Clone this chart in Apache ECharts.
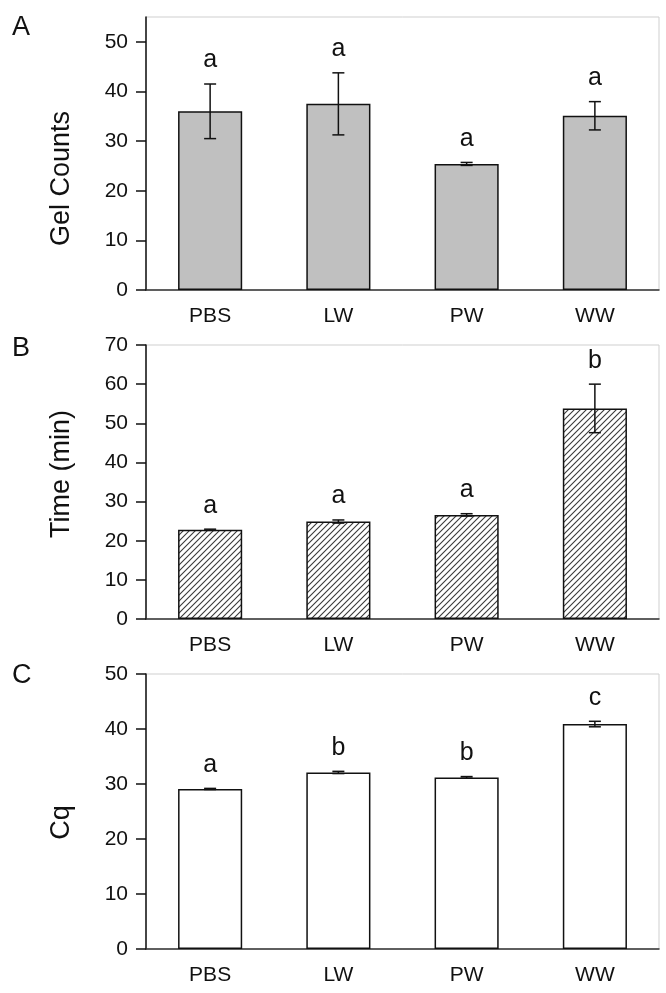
<!DOCTYPE html>
<html>
<head>
<meta charset="utf-8">
<script src="https://cdn.jsdelivr.net/npm/echarts@6/dist/echarts.min.js"></script>
<style>
html,body{margin:0;padding:0;background:#fff;}
#chart{width:666px;height:993px;}
</style>
</head>
<body>
<div id="chart"></div>
<script>
const categories = ['PBS', 'LW', 'PW', 'WW'];

const gelMean = [36.0, 37.5, 25.4, 35.1];
const gelErr = [5.5, 6.25, 0.3, 2.85];
const gelLetters = ['a', 'a', 'a', 'a'];
const gelTicks = [0, 10, 20, 30, 40, 50];

const timeMean = [22.8, 24.9, 26.6, 53.8];
const timeErr = [0.15, 0.4, 0.3, 6.2];
const timeLetters = ['a', 'a', 'a', 'b'];
const timeTicks = [0, 10, 20, 30, 40, 50, 60, 70];

const cqMean = [29.1, 32.1, 31.2, 40.9];
const cqErr = [0.1, 0.2, 0.15, 0.5];
const cqLetters = ['a', 'b', 'b', 'c'];
const cqTicks = [0, 10, 20, 30, 40, 50];

const FONT = '"Liberation Sans", Arial, Helvetica, sans-serif';

// hatch pattern for panel B
const hatch = document.createElement('canvas');
hatch.width = 6; hatch.height = 6;
(function () {
  const c = hatch.getContext('2d');
  c.fillStyle = '#ffffff';
  c.fillRect(0, 0, 6, 6);
  c.strokeStyle = '#3a3a3a';
  c.lineWidth = 1.1;
  c.beginPath();
  c.moveTo(-1, 7); c.lineTo(7, -1);
  c.moveTo(-4, 4); c.lineTo(4, -4);
  c.moveTo(2, 10); c.lineTo(10, 2);
  c.stroke();
})();

const panels = [
  { tag: 'A', name: 'Gel Counts', mean: gelMean, err: gelErr, letters: gelLetters, ticks: gelTicks, max: 55, fill: '#c0c0c0', top: 17, height: 273, tagY: 28, namePad: [0, 50, 0, 0] },
  { tag: 'B', name: 'Time (min)', mean: timeMean, err: timeErr, letters: timeLetters, ticks: timeTicks, max: 70, fill: { image: hatch, repeat: 'repeat' }, top: 345, height: 274, tagY: 349, namePad: [0, 0, 0, 16] },
  { tag: 'C', name: 'Cq', mean: cqMean, err: cqErr, letters: cqLetters, ticks: cqTicks, max: 50, fill: '#ffffff', top: 674, height: 275, tagY: 676, namePad: [0, 22, 0, 0] }
];

const grid = [], xAxis = [], yAxis = [], series = [], graphic = [];

panels.forEach((p, k) => {
  grid.push({ left: 146, right: 7, top: p.top, height: p.height, show: true, borderColor: '#cfcfcf', borderWidth: 1, backgroundColor: 'transparent' });
  xAxis.push({
    type: 'category', gridIndex: k, data: categories,
    axisLine: { lineStyle: { color: '#333', width: 1.5 } },
    axisTick: { alignWithLabel: true, length: 11, lineStyle: { color: '#222', width: 1.5 } },
    axisLabel: { color: '#111', fontSize: 21, fontFamily: FONT, margin: 16 }
  });
  yAxis.push({
    type: 'value', gridIndex: k, min: 0, max: p.max, interval: 10,
    name: p.name, nameLocation: 'middle', nameRotate: 90, nameGap: 71,
    nameTextStyle: { color: '#111', fontSize: 27, fontFamily: FONT, padding: p.namePad },
    axisLine: { show: true, lineStyle: { color: '#111', width: 1.5 } },
    axisTick: { show: true, length: 10, customValues: p.ticks, lineStyle: { color: '#111', width: 1.5 } },
    axisLabel: { color: '#111', fontSize: 21, fontFamily: FONT, margin: 18, customValues: p.ticks },
    splitLine: { show: false }
  });
  series.push({
    type: 'bar', xAxisIndex: k, yAxisIndex: k, barWidth: '50%',
    data: p.mean,
    itemStyle: { color: p.fill, borderColor: '#111', borderWidth: 1.5 },
    silent: true, animation: false
  });
  series.push({
    type: 'custom', xAxisIndex: k, yAxisIndex: k, z: 5, animation: false, silent: true,
    data: p.mean.map((m, i) => [i, m, p.err[i]]),
    renderItem: function (params, api) {
      const i = api.value(0), m = api.value(1), e = api.value(2);
      const t = api.coord([i, m + e]);
      const b = api.coord([i, m - e]);
      const hw = 6;
      const st = { stroke: '#111', lineWidth: 1.5 };
      return {
        type: 'group', children: [
          { type: 'line', shape: { x1: t[0], y1: t[1], x2: b[0], y2: b[1] }, style: st },
          { type: 'line', shape: { x1: t[0] - hw, y1: t[1], x2: t[0] + hw, y2: t[1] }, style: st },
          { type: 'line', shape: { x1: b[0] - hw, y1: b[1], x2: b[0] + hw, y2: b[1] }, style: st }
        ]
      };
    }
  });
  series.push({
    type: 'custom', xAxisIndex: k, yAxisIndex: k, z: 6, animation: false, silent: true,
    data: p.mean.map((m, i) => [i, m + p.err[i]]),
    renderItem: function (params, api) {
      const pt = api.coord([api.value(0), api.value(1)]);
      return {
        type: 'text',
        style: { x: pt[0], y: pt[1] - 11, text: p.letters[params.dataIndex], fill: '#111', font: '25px ' + FONT, textAlign: 'center', textVerticalAlign: 'bottom' }
      };
    }
  });
  graphic.push({ type: 'text', left: 12, top: p.tagY - 14, style: { text: p.tag, fill: '#111', font: '27px ' + FONT } });
});

const chart = echarts.init(document.getElementById('chart'), null, { renderer: 'canvas' });
chart.setOption({ animation: false, backgroundColor: '#ffffff', grid, xAxis, yAxis, series, graphic });
</script>
</body>
</html>
